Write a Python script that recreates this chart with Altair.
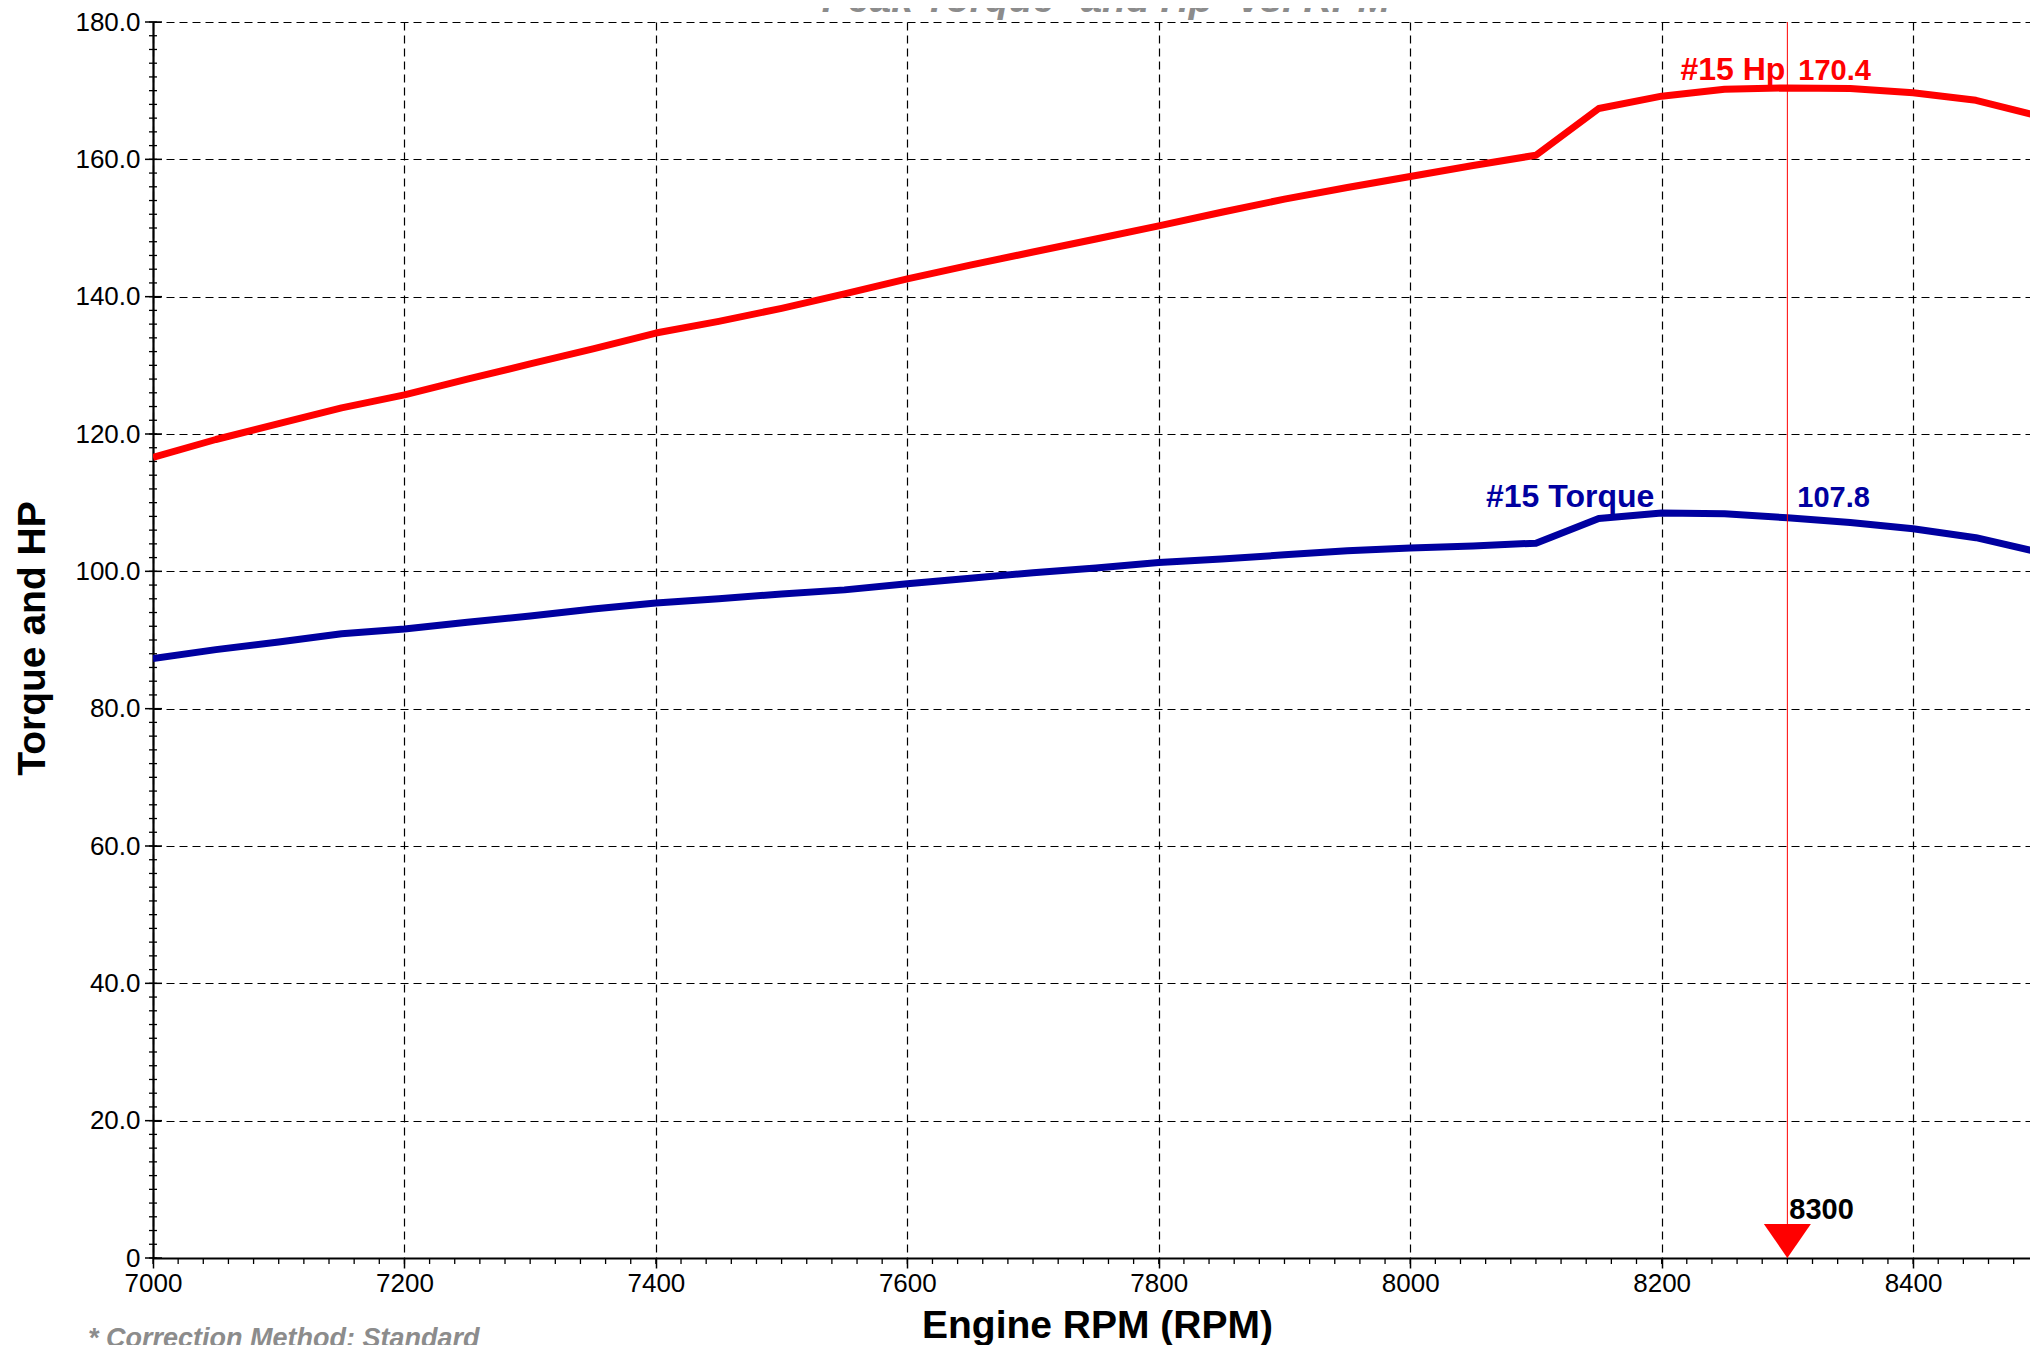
import altair as alt
import pandas as pd

# ---------------- data ----------------
rpm = [7000, 7050, 7100, 7150, 7200, 7250, 7300, 7350, 7400, 7450, 7500,
       7550, 7600, 7650, 7700, 7750, 7800, 7850, 7900, 7950, 8000, 8050,
       8100, 8150, 8200, 8250, 8300, 8350, 8400, 8450, 8500]
hp = [116.6, 119.2, 121.5, 123.8, 125.7, 128.0, 130.2, 132.4, 134.7, 136.4, 138.3,
      140.4, 142.6, 144.6, 146.5, 148.4, 150.3, 152.3, 154.2, 155.9, 157.5,
      159.1, 160.6, 167.4, 169.2, 170.2, 170.4, 170.3, 169.7, 168.6, 166.3]
torque = [87.3, 88.6, 89.7, 90.9, 91.6, 92.6, 93.5, 94.5, 95.4, 96.0, 96.7,
          97.3, 98.2, 99.0, 99.8, 100.5, 101.3, 101.8, 102.4, 103.0, 103.4,
          103.7, 104.1, 107.7, 108.5, 108.4, 107.8, 107.1, 106.2, 104.9, 102.8]
series_names = ["#15 Hp", "#15 Torque"]
series_colors = ["#FF0000", "#0000A0"]
x_major = [7000, 7200, 7400, 7600, 7800, 8000, 8200, 8400]
y_major = [0, 20, 40, 60, 80, 100, 120, 140, 160, 180]
cursor_rpm = 8300
chart_title = "Peak Torque* and Hp* vs. RPM"
footnote = "* Correction Method: Standard"

# ---------------- layout / style ----------------
FONT = "Liberation Sans"
W, H = 1877, 1236
X_DOMAIN = [7000, 8493]
Y_DOMAIN = [0, 180]

df = pd.DataFrame({
    "rpm": rpm * 2,
    "value": hp + torque,
    "series": [series_names[0]] * len(rpm) + [series_names[1]] * len(rpm),
})

xs = alt.Scale(domain=X_DOMAIN, nice=False, zero=False)
ys = alt.Scale(domain=Y_DOMAIN, nice=False, zero=False)

x_axis = alt.Axis(
    values=x_major, format="d", grid=True, gridDash=[8, 5], gridColor="black",
    gridWidth=1.2, gridOpacity=1, domainColor="black", domainWidth=2.2,
    tickColor="black", tickSize=10, tickWidth=1.5, labelFontSize=26,
    labelFont=FONT, labelColor="black", labelPadding=2, labelFlush=False,
    labelOverlap=False, title="Engine RPM (RPM)", titleFontSize=39,
    titleFont=FONT, titleFontWeight="bold", titleColor="black",
    titleX=944, titleY=79, titleBaseline="alphabetic", titleAlign="center")
y_axis = alt.Axis(
    values=y_major, labelExpr="datum.value == 0 ? '0' : format(datum.value, '.1f')",
    ticks=False, grid=True, gridDash=[8, 5], gridColor="black", gridWidth=1.2,
    gridOpacity=1, domainColor="black", domainWidth=2.2, labelFontSize=26,
    labelFont=FONT, labelColor="black", labelPadding=13, labelOverlap=False,
    title="Torque and HP", titleFontSize=39, titleFont=FONT,
    titleFontWeight="bold", titleColor="black", titleAngle=270,
    titleX=-109, titleY=616, titleBaseline="alphabetic", titleAlign="center")

X = lambda: alt.X("rpm:Q", scale=xs, axis=x_axis)
Y = lambda: alt.Y("value:Q", scale=ys, axis=y_axis)

lines = alt.Chart(df).mark_line(strokeWidth=7, clip=True, strokeJoin="round").encode(
    x=X(), y=Y(),
    color=alt.Color("series:N", scale=alt.Scale(domain=series_names, range=series_colors),
                    legend=None),
)

# minor / major tick marks drawn as short rules
y_minor_df = pd.DataFrame({"value": list(range(0, 181, 2))})
y_major_df = pd.DataFrame({"value": y_major})
x_minor_df = pd.DataFrame({"rpm": [v for v in range(7000, 8501, 20) if v <= X_DOMAIN[1]]})

y_minor = alt.Chart(y_minor_df).mark_rule(color="black", strokeWidth=1.3).encode(
    y=Y(), x=alt.value(-4), x2=alt.value(4))
y_major_t = alt.Chart(y_major_df).mark_rule(color="black", strokeWidth=1.5).encode(
    y=Y(), x=alt.value(-8), x2=alt.value(9))
x_minor = alt.Chart(x_minor_df).mark_rule(color="black", strokeWidth=1.3).encode(
    x=X(), y=alt.value(H), y2=alt.value(H + 6))

# cursor
ci = rpm.index(cursor_rpm)
hp_at = hp[ci]
tq_at = torque[ci]
cursor_df = pd.DataFrame({"rpm": [cursor_rpm], "value": [0]})
cursor = alt.Chart(cursor_df).mark_rule(color="#FF0000", strokeWidth=1).encode(
    x=X(), y=alt.value(0), y2=alt.value(H))
tri = alt.Chart(cursor_df).mark_point(
    shape="M-1,-1.45L1,-1.45L0,0Z", filled=True, color="#FF0000", size=2209,
    opacity=1, strokeWidth=0).encode(x=X(), y=Y())

def label(text, yval, color, align, dx, dy, size=29):
    d = pd.DataFrame({"rpm": [cursor_rpm], "value": [yval], "t": [text]})
    return alt.Chart(d).mark_text(
        align=align, baseline="alphabetic", dx=dx, dy=dy, font=FONT,
        fontWeight="bold", fontSize=size, color=color).encode(
        x=X(), y=Y(), text="t:N")

labels = [
    label(series_names[0], hp_at, series_colors[0], "right", -2, -8, size=32),
    label(f"{hp_at:.1f}", hp_at, series_colors[0], "left", 11, -8),
    label(series_names[1], tq_at, series_colors[1], "right", -133, -11, size=32),
    label(f"{tq_at:.1f}", tq_at, series_colors[1], "left", 10, -11),
    label(str(cursor_rpm), 0, "black", "left", 2, -39, size=29),
]

title_t = alt.Chart(pd.DataFrame({"t": [chart_title]})).mark_text(
    align="center", baseline="alphabetic", font=FONT, fontWeight="bold",
    fontStyle="italic", fontSize=39, color="#8C8C8C").encode(
    x=alt.value(953), y=alt.value(-10), text="t:N")
foot_t = alt.Chart(pd.DataFrame({"t": [footnote]})).mark_text(
    align="left", baseline="alphabetic", font=FONT, fontWeight="bold",
    fontStyle="italic", fontSize=27, color="#8C8C8C").encode(
    x=alt.value(-65), y=alt.value(1325), text="t:N")

chart = alt.layer(
    lines, y_minor, y_major_t, x_minor, cursor, tri, *labels, title_t, foot_t
).properties(
    width=W, height=H,
    padding={"left": 145, "top": 14, "right": 0, "bottom": 87},
    autosize=alt.AutoSizeParams(type="none"),
    background="white",
).configure_view(stroke=None)

chart.save("out.html", embed_options={"renderer": "svg", "actions": False})
